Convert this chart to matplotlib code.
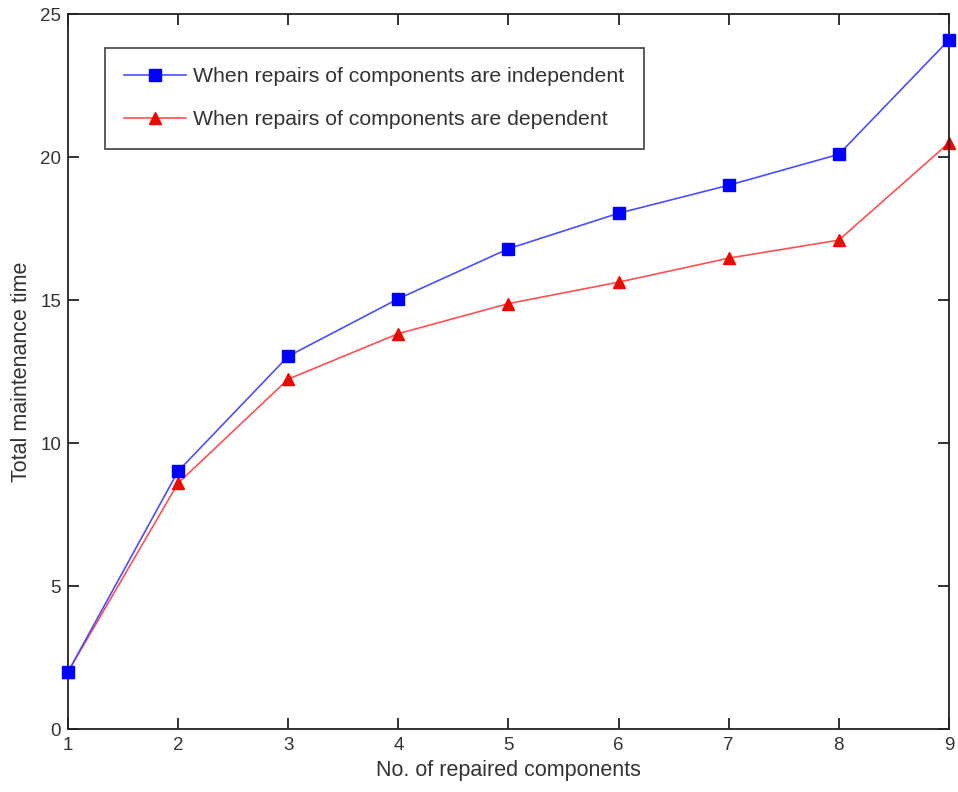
import matplotlib.pyplot as plt

plt.rcParams['font.family'] = ['Liberation Sans', 'DejaVu Sans']

# Data
n_components = [1, 2, 3, 4, 5, 6, 7, 8, 9]
time_independent = [2.0, 9.02, 13.04, 15.05, 16.8, 18.04, 19.02, 20.1, 24.1]
time_dependent = [2.0, 8.6, 12.24, 13.83, 14.88, 15.63, 16.47, 17.1, 20.5]

label_indep = "When repairs of components are independent"
label_dep = "When repairs of components are dependent"

text_color = "#333333"

fig = plt.figure(figsize=(9.58, 7.92), dpi=100)
ax = fig.add_axes([0.071, 0.0795, 0.9195, 0.9025])

ax.plot(n_components, time_independent, color="#4d4dff", lw=1.2,
        marker="s", ms=9, mfc="#0000ff", mec="#0000ff", label=label_indep,
        clip_on=False, zorder=3)
ax.plot(n_components, time_dependent, color="#ff5050", lw=1.2,
        marker="^", ms=9, mfc="#dd1100", mec="#ff0000", label=label_dep,
        clip_on=False, zorder=2)

ax.set_xlim(1, 9)
ax.set_ylim(0, 25)
ax.set_xticks(n_components)
ax.set_yticks([0, 5, 10, 15, 20, 25])

for spine in ax.spines.values():
    spine.set_linewidth(1.3)
    spine.set_color("#222222")

ax.tick_params(direction="in", length=8, width=1.3, color="#222222",
               labelsize=13.5, labelcolor=text_color, top=True, right=True)
ax.tick_params(axis="x", pad=6)
ax.tick_params(axis="y", pad=5)

ax.set_xlabel("No. of repaired components", fontsize=15.5, color=text_color, labelpad=4)
ax.set_ylabel("Total maintenance time", fontsize=15.5, color=text_color, labelpad=6)

leg = ax.legend(loc="upper left", bbox_to_anchor=(0.042, 0.953), fontsize=15.3,
                frameon=True, fancybox=False, edgecolor="#222222",
                borderpad=0.9, labelspacing=1.15, handlelength=2.9,
                handletextpad=0.35, borderaxespad=0)
leg.get_frame().set_linewidth(1.3)
for t in leg.get_texts():
    t.set_color(text_color)

fig.savefig("out.png", dpi=100)
